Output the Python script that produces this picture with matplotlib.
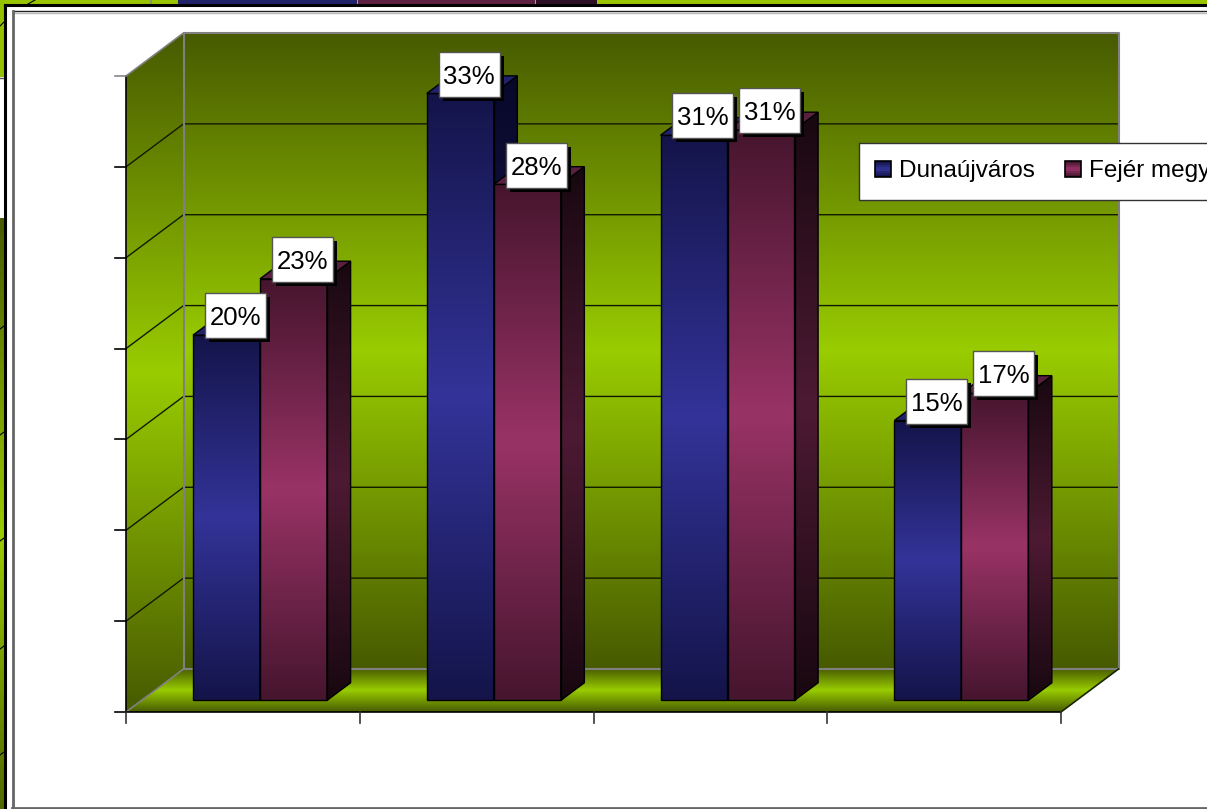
import numpy as np
import matplotlib
matplotlib.use('Agg')
import matplotlib.pyplot as plt
from matplotlib.colors import to_rgb
from matplotlib.legend_handler import HandlerBase
from matplotlib.patches import Polygon, Rectangle

categories = ['1', '2', '3', '4']
series_names = ['Dunaújváros', 'Fejér megye']
dunaujvaros = [20.1, 33.4, 31.1, 15.4]
fejer = [23.2, 28.4, 31.4, 16.9]
y_ticks = [0, 5, 10, 15, 20, 25, 30, 35]

W, H = 1207, 809
# front plane of the chart box in pixels
LEFT, RIGHT, BOTTOM, TOP = 126, 1061, 712, 76
PX = len(categories) / (RIGHT - LEFT)
PY = y_ticks[-1] / (BOTTOM - TOP)
DX = 57.5 * PX
DY = 43 * PY
XMAX = len(categories)
YMAX = y_ticks[-1]

plt.rcParams['font.family'] = ['Liberation Sans', 'DejaVu Sans']

WALL = ('#475a00', '#99cc00')
BLUE = ('#14144a', '#333399')
MAROON = ('#46152e', '#993366')
BLUE_SIDE = ('#08082a', '#1a1a4d')
MAROON_SIDE = ('#180810', '#4d1a33')
BLUE_TOP = '#20226a'
MAROON_TOP = '#5a2040'


def ramp(colors, n=256):
    end, mid = np.array(to_rgb(colors[0])), np.array(to_rgb(colors[1]))
    t = 1 - np.abs(np.linspace(-1, 1, n))
    return (end + (mid - end) * t[:, None])[:, None, :]


def grad(ax, verts, colors, z, edge=None, lw=1.0):
    verts = np.array(verts)
    x0, x1 = verts[:, 0].min(), verts[:, 0].max()
    y0, y1 = verts[:, 1].min(), verts[:, 1].max()
    im = ax.imshow(ramp(colors), extent=(x0, x1, y0, y1), origin='lower',
                   aspect='auto', zorder=z, interpolation='bilinear')
    clip = Polygon(verts, closed=True, transform=ax.transData)
    im.set_clip_path(clip)
    if edge:
        ax.add_patch(Polygon(verts, closed=True, fill=False, edgecolor=edge,
                             linewidth=lw, zorder=z + 0.1))


def project(x, y, d):
    return x + d * DX, y + d * DY


class GradientSwatch(HandlerBase):
    def create_artists(self, legend, orig, xd, yd, width, height, fontsize, trans):
        out = []
        colors = ramp(orig.get_gid().split(','), 8)
        # swatch is 16 px wide, pushed left of the handle box
        sw = 16 * 0.72
        x = -xd - 1.5 * 0.72
        for i in range(8):
            out.append(Rectangle((x, -yd + height * i / 8), sw, height / 8 + 0.2,
                                 facecolor=colors[i, 0], edgecolor='none', transform=trans))
        out.append(Rectangle((x, -yd), sw, height, fill=False, edgecolor='black',
                             linewidth=1.2, transform=trans))
        return out


fig = plt.figure(figsize=(W / 100, H / 100), dpi=100, facecolor='white')

# things left over from the slide behind the chart, in pixels
bg = fig.add_axes([0, 0, 1, 1])
bg.axis('off')
bg.add_patch(Rectangle((0, 0), W, 4, color='#99c400', lw=0))
bg.add_patch(Rectangle((0, 0), 4, 77, color='#93c000', lw=0))
bg.imshow(ramp(WALL), extent=(0, 4, 850, 218), aspect='auto', zorder=1)
bg.set_xlim(0, W)
bg.set_ylim(H, 0)
bg.plot([0, 4], [78, 78], color='#555555', lw=1)
for y in [327, 433, 539, 647, 753]:
    bg.plot([0, 4], [y + 2, y - 1], color='black', lw=0.8, zorder=2)
bg.plot([0, 4], [26, 22], color='black', lw=0.8, zorder=2)
bg.plot([28, 35], [4, 0], color='black', lw=0.8, zorder=2)
bg.plot([150.5, 150.5], [0, 4], color='#888888', lw=1.2, zorder=2)
bg.add_patch(Rectangle((178, 0), 179, 4, color='#20226a', lw=0, zorder=2))
bg.add_patch(Rectangle((358, 0), 177, 4, color='#5e2040', lw=0, zorder=2))
bg.add_patch(Rectangle((536, 0), 61, 4, color='#2e1026', lw=0, zorder=2))
bg.plot([5, W], [5, 5], color='black', lw=2.2, zorder=3)
bg.plot([5, 5], [5, H], color='black', lw=2.2, zorder=3)
bg.plot([13, W], [11, 11], color='#222222', lw=1, zorder=3)
bg.plot([13, W], [12.5, 12.5], color='#bbbbbb', lw=1, zorder=3)
bg.plot([12.5, 12.5], [11, 808], color='#666666', lw=2, zorder=3)
bg.plot([12, W], [807.5, 807.5], color='#666666', lw=2, zorder=3)

ax = fig.add_axes([0, 0, 1, 1])
ax.patch.set_alpha(0)
ax.axis('off')

# walls and floor
grad(ax, [project(0, YMAX, 1), project(XMAX, YMAX, 1), project(XMAX, 0, 1), project(0, 0, 1)],
     WALL, 1)
grad(ax, [(0, 0), project(0, 0, 1), project(0, YMAX, 1), (0, YMAX)], WALL, 1)
grad(ax, [(0, 0), (XMAX, 0), project(XMAX, 0, 1), project(0, 0, 1)], WALL, 1)

for v in y_ticks[1:-1]:
    bx, by = project(0, v, 1)
    ex, ey = project(XMAX, v, 1)
    ax.plot([0, bx, ex], [v, by, ey], color='#111a00', lw=1, zorder=2)

gray = '#808080'
bx0, by0 = project(0, 0, 1)
bx1, by1 = project(XMAX, YMAX, 1)
ax.plot([bx0, bx1, bx1, bx0, bx0], [by0, by0, by1, by1, by0], color=gray, lw=1.5, zorder=2)
ax.plot([0, bx0], [0, by0], color=gray, lw=1.2, zorder=2)
ax.plot([0, bx0], [YMAX, by1], color=gray, lw=1.2, zorder=2)
ax.plot([0, 0], [0, YMAX], color='black', lw=1.2, zorder=2)
ax.plot([0, XMAX], [0, 0], color='black', lw=1.2, zorder=2)
ax.plot([XMAX, XMAX + DX], [0, by0], color='#1a2400', lw=1.2, zorder=2)

for v in y_ticks:
    ax.plot([-11 * PX, 0], [v, v], color='#888888' if v == YMAX else 'black', lw=1.2, zorder=2)
for i in range(XMAX + 1):
    ax.plot([i, i], [0, -11 * PY], color='#333333', lw=1.2, zorder=2)

# bars
bar_w = 67 * PX
first = 51.5 * PX
d0, d1 = 0.27, 0.68
series = [(dunaujvaros, BLUE, BLUE_SIDE, BLUE_TOP), (fejer, MAROON, MAROON_SIDE, MAROON_TOP)]
z = 3
labels = []
for i in range(len(categories)):
    for s, (vals, front, side, top) in enumerate(series):
        v = vals[i]
        xl = i + first + s * bar_w
        xr = xl + bar_w
        fl = project(xl, 0, d0)
        fr = project(xr, 0, d0)
        tl = project(xl, v, d0)
        tr = project(xr, v, d0)
        br = project(xr, 0, d1)
        tbr = project(xr, v, d1)
        tbl = project(xl, v, d1)
        grad(ax, [fl, fr, tr, tl], front, z, edge='black')
        grad(ax, [fr, br, tbr, tr], side, z, edge='black')
        ax.add_patch(Polygon([tl, tr, tbr, tbl], closed=True, facecolor=top,
                             edgecolor='black', linewidth=1, zorder=z + 0.1))
        mx, my = project(xl + bar_w / 2, v, (d0 + d1) / 2)
        labels.append((mx - 3 * PX, my + 10.5 * PY, f'{v:.0f}%'))
        z += 0.5

# data labels
box_w, box_h = 61 * PX, 45 * PY
for k, (x, y, text) in enumerate(labels):
    z = 20 + k
    ax.add_patch(Rectangle((x - box_w / 2 + 4 * PX, y - box_h / 2 - 4 * PY), box_w, box_h,
                           facecolor='black', edgecolor='none', zorder=z))
    ax.add_patch(Rectangle((x - box_w / 2, y - box_h / 2), box_w, box_h, facecolor='white',
                           edgecolor='#555555', linewidth=1, zorder=z + 0.1))
    ax.text(x, y, text, fontsize=18.5, ha='center', va='center_baseline', color='black', zorder=z + 0.2)

ax.set_xlim(-LEFT * PX, (W - LEFT) * PX)
ax.set_ylim(-(H - BOTTOM) * PY, BOTTOM * PY)

# legend runs off the right of the picture
handles = [Rectangle((0, 0), 1, 1, gid=','.join(BLUE)), Rectangle((0, 0), 1, 1, gid=','.join(MAROON))]
leg = ax.legend(handles, series_names, ncol=2, loc='upper left',
                bbox_to_anchor=(859 / W, 1 - 143 / H), bbox_transform=fig.transFigure,
                fontsize=17.5, frameon=True, fancybox=False, framealpha=1, edgecolor='#333333',
                borderaxespad=0, borderpad=0.72, handlelength=0.6, handleheight=0.66,
                handletextpad=0.33, columnspacing=1.30,
                handler_map={Rectangle: GradientSwatch()})
leg.get_frame().set_linewidth(1)
leg.set_zorder(50)

fig.savefig('out.png', dpi=100)
